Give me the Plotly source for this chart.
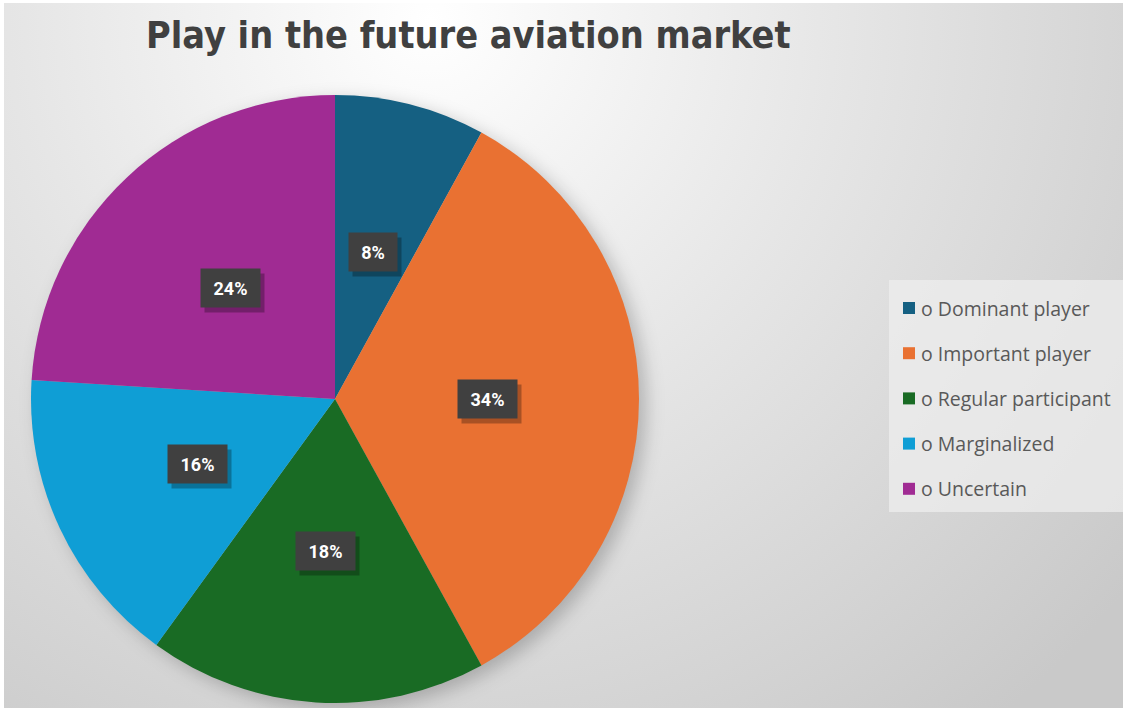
import base64
import math
import plotly.graph_objects as go

# Survey shares: how respondents see their role in the future aviation market
categories = ["o Dominant player", "o Important player", "o Regular participant",
              "o Marginalized", "o Uncertain"]
shares = [8, 34, 18, 16, 24]
slice_colors = ["#156082", "#E97132", "#196B24", "#0F9ED5", "#A02B93"]
title_text = "Play in the future aviation market"

W, H = 1123, 708

# Pie placement in pixels (center and radius)
CX, CY, R = 335, 399, 304

# Soft radial backdrop with a faint drop shadow under the pie
svg = f"""<svg xmlns='http://www.w3.org/2000/svg' width='{W}' height='{H}' viewBox='0 0 {W} {H}'>
<defs>
<radialGradient id='g' gradientUnits='userSpaceOnUse' cx='430' cy='20' r='900'>
<stop offset='0' stop-color='#ffffff'/>
<stop offset='0.45' stop-color='#e6e6e6'/>
<stop offset='1' stop-color='#c9c9c9'/>
</radialGradient>
<filter id='b' x='-20%' y='-20%' width='140%' height='140%'><feGaussianBlur stdDeviation='9'/></filter>
</defs>
<rect x='0' y='0' width='{W}' height='{H}' fill='#ffffff'/>
<rect x='4' y='3' width='{W-4}' height='{H-3}' fill='url(#g)'/>
<circle cx='{CX+7}' cy='{CY+6}' r='{R}' fill='rgba(0,0,0,0.22)' filter='url(#b)'/>
</svg>"""
bg_uri = "data:image/svg+xml;base64," + base64.b64encode(svg.encode()).decode()

fig = go.Figure()
fig.add_trace(go.Pie(
    labels=categories,
    values=shares,
    sort=False,
    direction="clockwise",
    rotation=0,
    marker=dict(colors=slice_colors, line=dict(width=0)),
    textinfo="none",
    hoverinfo="label+percent",
    domain=dict(x=[(CX - R) / W, (CX + R) / W], y=[1 - (CY + R) / H, 1 - (CY - R) / H]),
    showlegend=False,
))

annotations = []
shapes = []

# Percentage labels in dark boxes, placed halfway out along each slice's mid-angle
label_font = "Roboto, Liberation Sans, sans-serif"
total = sum(shares)
cum = 0
for v in shares:
    mid = (cum + v / 2) / total * 2 * math.pi
    cum += v
    px = CX + 0.5 * R * math.sin(mid)
    py = CY - 0.5 * R * math.cos(mid)
    pct = f"{round(v / total * 100)}%"
    box_w = 11 * len(pct) + 10
    common = dict(xref="paper", yref="paper", xanchor="center", yanchor="middle",
                  showarrow=False, borderpad=8, width=box_w, height=22,
                  bordercolor="rgba(0,0,0,0)")
    # shadow box behind the label
    annotations.append(dict(
        x=(px + 4) / W, y=1 - (py + 5) / H, text="&nbsp;",
        bgcolor="rgba(0,0,0,0.28)", font=dict(size=18, family=label_font), **common,
    ))
    annotations.append(dict(
        x=px / W, y=1 - py / H, text=f"<b>{pct}</b>",
        bgcolor="#404040", font=dict(size=18, color="#ffffff", family=label_font), **common,
    ))

# Title
annotations.append(dict(
    x=468 / W, y=1 - 35 / H, xref="paper", yref="paper",
    text=f"<b>{title_text}</b>", showarrow=False, xanchor="center", yanchor="middle",
    font=dict(size=37.5, color="#404040",
              family="Liberation Sans Narrow, DejaVu Sans Condensed, sans-serif"),
))

# Legend panel
shapes.append(dict(type="rect", xref="paper", yref="paper",
                   x0=889 / W, x1=1.0, y0=1 - 512 / H, y1=1 - 280 / H,
                   fillcolor="rgba(238,238,238,0.75)", line=dict(width=0), layer="below"))
row0, gap = 308, 45.2
for i, (name, col) in enumerate(zip(categories, slice_colors)):
    yc = row0 + i * gap
    shapes.append(dict(type="rect", xref="paper", yref="paper",
                       x0=903 / W, x1=915 / W, y0=1 - (yc + 6) / H, y1=1 - (yc - 6) / H,
                       fillcolor=col, line=dict(width=0)))
    annotations.append(dict(
        x=919 / W, y=1 - yc / H, xref="paper", yref="paper",
        text=name, showarrow=False, xanchor="left", yanchor="middle",
        font=dict(size=19.5, color="#595959", family="Open Sans, Roboto, sans-serif"),
    ))

fig.update_layout(
    width=W, height=H,
    margin=dict(l=0, r=0, t=0, b=0),
    paper_bgcolor="#ffffff",
    plot_bgcolor="rgba(0,0,0,0)",
    images=[dict(source=bg_uri, xref="paper", yref="paper", x=0, y=1,
                 sizex=1, sizey=1, xanchor="left", yanchor="top",
                 sizing="stretch", layer="below")],
    annotations=annotations,
    shapes=shapes,
    showlegend=False,
)

fig.write_html("out.html")
